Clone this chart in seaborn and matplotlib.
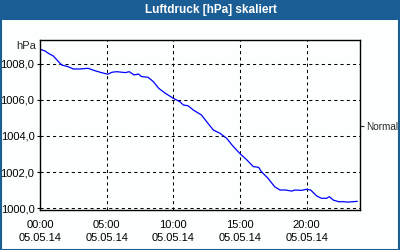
import matplotlib
matplotlib.use("Agg")
import matplotlib.pyplot as plt
import matplotlib.patches as mpatches
import seaborn as sns
import pandas as pd

# ---- data ----
hours = [0.0, 0.375, 0.63, 1.0, 1.38, 1.63, 2.1, 2.5, 3.0, 3.6, 4.1, 4.6, 5.08,
         5.4, 5.75, 6.4, 6.7, 7.05, 7.4, 7.6, 8.1, 8.5, 8.9, 9.4, 10.0, 10.5,
         10.75, 11.1, 11.5, 12.1, 12.6, 13.0, 13.5, 14.0, 14.4, 15.0, 15.5,
         16.0, 16.4, 16.6, 17.1, 17.6, 18.0, 18.4, 18.9, 19.1, 19.6, 20.0,
         20.3, 20.75, 21.1, 21.5, 21.7, 22.0, 22.4, 22.75, 23.1, 23.8]
pressure = [1008.82, 1008.72, 1008.59, 1008.44, 1008.13, 1007.94, 1007.85,
            1007.72, 1007.72, 1007.76, 1007.63, 1007.52, 1007.43, 1007.54,
            1007.57, 1007.52, 1007.57, 1007.39, 1007.44, 1007.30, 1007.26,
            1007.02, 1006.65, 1006.37, 1006.09, 1005.90, 1005.72, 1005.68,
            1005.44, 1005.17, 1004.70, 1004.33, 1004.15, 1003.87, 1003.50,
            1003.02, 1002.68, 1002.30, 1002.26, 1002.02, 1001.65, 1001.18,
            1001.00, 1001.00, 1000.94, 1001.00, 1000.98, 1001.04, 1001.00,
            1000.67, 1000.54, 1000.54, 1000.63, 1000.44, 1000.35, 1000.35,
            1000.33, 1000.37]
x_ticks = [0, 5, 10, 15, 20]
x_tick_labels = ["00:00\n05.05.14", "05:00\n05.05.14", "10:00\n05.05.14",
                 "15:00\n05.05.14", "20:00\n05.05.14"]
y_ticks = [1000, 1002, 1004, 1006, 1008]
y_tick_labels = ["1000,0", "1002,0", "1004,0", "1006,0", "1008,0"]
title = "Luftdruck [hPa] skaliert"
unit = "hPa"
right_label = "Normal"
right_label_value = 1004.56

df = pd.DataFrame({"h": hours, "p": pressure})

sns.set_style("white")
plt.rcParams["font.family"] = ["Liberation Sans", "DejaVu Sans"]

BLUE = "#1b5e95"
fig = plt.figure(figsize=(4, 2.5), dpi=100)
fig.patch.set_facecolor("#fbfffd")

# title bar and frame
fig.patches.append(mpatches.Rectangle((0, 1 - 20 / 250), 1, 20 / 250,
                                      transform=fig.transFigure,
                                      facecolor=BLUE, edgecolor="none", zorder=0))
fig.patches.append(mpatches.Rectangle((0.5 / 400, 0.5 / 250), 1 - 1.5 / 400, 1 - 1.5 / 250,
                                      transform=fig.transFigure, fill=False,
                                      edgecolor=BLUE, linewidth=1.5, zorder=0))
fig.text(211 / 400, 1 - 10 / 250, title, color="white", fontweight="bold",
         fontsize=8.5, ha="center", va="center")

ax = fig.add_axes([40 / 400, 1 - 210 / 250, 320 / 400, 170 / 250])
ax.set_facecolor("#fbfffd")
sns.lineplot(data=df, x="h", y="p", ax=ax, color="#0000ff", linewidth=0.9)

ax.set_xlim(0, 24)
ax.set_ylim(999.89, 1009.33)
ax.set_xticks(x_ticks)
ax.set_xticklabels(x_tick_labels, linespacing=1.45)
ax.set_xticks(range(0, 25), minor=True)
ax.set_yticks(y_ticks)
ax.set_yticklabels(y_tick_labels)
ax.set_xlabel("")
ax.set_ylabel("")

for s in ax.spines.values():
    s.set_color("black")
    s.set_linewidth(1.0)

ax.grid(True, which="major", color="black", linestyle=(0, (3, 3)), linewidth=0.75)
ax.tick_params(axis="x", which="major", direction="in", length=4, width=0.8,
               labelsize=8, pad=7, colors="black")
ax.tick_params(axis="x", which="minor", direction="in", length=2, width=0.8,
               colors="black")
ax.tick_params(axis="y", which="major", direction="out", length=2, width=0.8,
               labelsize=8, pad=2, colors="black")

fig.text(36 / 400, 1 - 46 / 250, unit, fontsize=8, ha="right", va="center")

ax2 = ax.twinx()
ax2.set_ylim(ax.get_ylim())
ax2.set_yticks([right_label_value])
ax2.set_yticklabels([right_label])
ax2.tick_params(axis="y", direction="out", length=3, width=0.8, labelsize=7.2, pad=1.2)
ax2.grid(False)
for s in ax2.spines.values():
    s.set_visible(False)

fig.savefig("out.png", dpi=100, facecolor=fig.get_facecolor())
